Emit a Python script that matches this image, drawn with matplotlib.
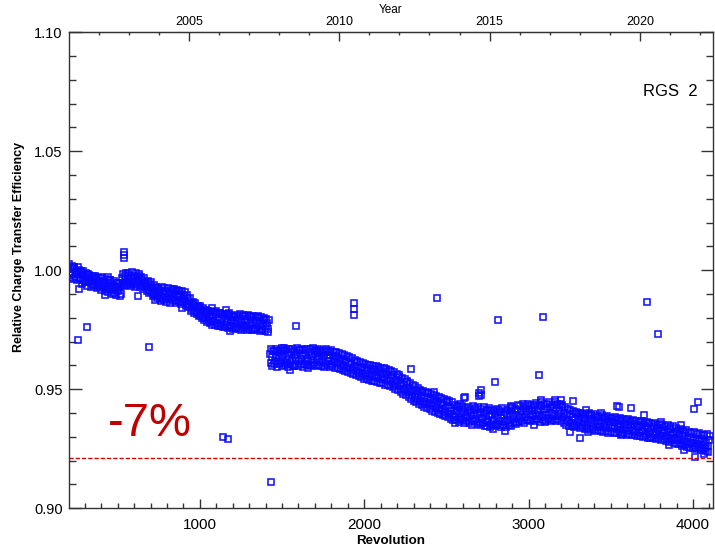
import numpy as np
import matplotlib
matplotlib.use("Agg")
import matplotlib.pyplot as plt
from matplotlib.ticker import MultipleLocator, FixedLocator

# ---------------- data ----------------
# before the jump at revolution ~1420 (two interleaved samplings of the band)
seg1_start, seg1_step = 200, 8
seg1_values = [
    1.0012, 0.9981, 1.0004, 0.9990, 1.0008, 0.9973, 0.9995, 0.9986, 1.0001, 0.9969,
    0.9988, 0.9958, 0.9979, 0.9949, 0.9972, 0.9985, 0.9952, 0.9966, 0.9941, 0.9970,
    0.9938, 0.9962, 0.9947, 0.9928, 0.9955, 0.9972, 0.9931, 0.9950, 0.9940, 0.9921,
    0.9946, 0.9925, 0.9958, 0.9918, 0.9937, 0.9905, 0.9929, 0.9946, 0.9912, 0.9931,
    0.9902,
    0.9968, 0.9945, 0.9978, 0.9952, 0.9964, 0.9980, 0.9941, 0.9970, 0.9957,
    0.9975, 0.9946, 0.9966, 0.9955, 0.9978, 0.9938, 0.9960, 0.9948, 0.9929, 0.9952,
    0.9935, 0.9918, 0.9942, 0.9909, 0.9926, 0.9898, 0.9915, 0.9930, 0.9892, 0.9908,
    0.9917, 0.9884, 0.9902, 0.9925, 0.9889, 0.9908, 0.9878, 0.9899, 0.9915, 0.9882,
    0.9906, 0.9875, 0.9912, 0.9889, 0.9897, 0.9868, 0.9901, 0.9880, 0.9893, 0.9872,
    0.9860, 0.9878, 0.9845, 0.9862, 0.9838, 0.9855, 0.9831, 0.9846, 0.9822, 0.9840,
    0.9812, 0.9834, 0.9807, 0.9825, 0.9798, 0.9819, 0.9830, 0.9793, 0.9812, 0.9785,
    0.9808, 0.9789, 0.9816, 0.9780, 0.9799, 0.9822, 0.9776, 0.9795, 0.9809, 0.9772,
    0.9798, 0.9781, 0.9812, 0.9768, 0.9790, 0.9805, 0.9774, 0.9793, 0.9763, 0.9786,
    0.9800, 0.9770, 0.9789, 0.9812, 0.9766, 0.9784, 0.9796, 0.9761, 0.9779, 0.9803,
    0.9772, 0.9790, 0.9758, 0.9781, 0.9798, 0.9765, 0.9786, 0.9754, 0.9776, 0.9793,
    0.9762, 0.9779, 0.9752,
]
seg1b_start, seg1b_step = 204, 8
seg1b_values = [
    1.0028, 0.9968, 1.0020, 0.9962, 1.0015, 0.9990, 0.9958, 1.0012, 0.9965, 0.9998,
    0.9942, 0.9996, 0.9950, 0.9990, 0.9936, 0.9982, 0.9965, 0.9928, 0.9978, 0.9934,
    0.9975, 0.9925, 0.9968, 0.9940, 0.9918, 0.9966, 0.9950, 0.9912, 0.9962, 0.9930,
    0.9908, 0.9960, 0.9935, 0.9900, 0.9954, 0.9922, 0.9896, 0.9945, 0.9930, 0.9893,
    0.9940,
    0.9985, 0.9932, 0.9990, 0.9940, 0.9988, 0.9951, 0.9935, 0.9992, 0.9944,
    0.9930, 0.9990, 0.9940, 0.9985, 0.9928, 0.9972, 0.9922, 0.9968, 0.9945, 0.9915,
    0.9955, 0.9905, 0.9950, 0.9925, 0.9890, 0.9940, 0.9900, 0.9882, 0.9925, 0.9880,
    0.9870, 0.9928, 0.9875, 0.9915, 0.9865, 0.9925, 0.9895, 0.9862, 0.9920, 0.9870,
    0.9922, 0.9862, 0.9918, 0.9870, 0.9912, 0.9858, 0.9915, 0.9865, 0.9908, 0.9852,
    0.9898, 0.9848, 0.9882, 0.9830, 0.9868, 0.9822, 0.9862, 0.9815, 0.9852, 0.9808,
    0.9850, 0.9800, 0.9842, 0.9790, 0.9835, 0.9782, 0.9828, 0.9778, 0.9826, 0.9772,
    0.9826, 0.9770, 0.9830, 0.9765, 0.9820, 0.9768, 0.9815, 0.9760, 0.9818, 0.9762,
    0.9815, 0.9758, 0.9820, 0.9762, 0.9810, 0.9755, 0.9812, 0.9757, 0.9808, 0.9752,
    0.9815, 0.9750, 0.9808, 0.9756, 0.9810, 0.9748, 0.9812, 0.9752, 0.9806, 0.9750,
    0.9808, 0.9747, 0.9805, 0.9752, 0.9810, 0.9745, 0.9802, 0.9748, 0.9800, 0.9744,
    0.9795, 0.9742, 0.9790,
]

# after the jump
seg2_start, seg2_step = 1426, 8
seg2_values = [
    0.9648, 0.9612, 0.9635, 0.9659, 0.9620, 0.9641, 0.9605, 0.9630, 0.9652, 0.9617,
    0.9639, 0.9661, 0.9609, 0.9628, 0.9647, 0.9615, 0.9656, 0.9625, 0.9598, 0.9643,
    0.9630, 0.9652, 0.9618, 0.9664, 0.9626, 0.9641, 0.9608, 0.9649, 0.9633, 0.9620,
    0.9655, 0.9622, 0.9640, 0.9611, 0.9648, 0.9660, 0.9627, 0.9637, 0.9615, 0.9653,
    0.9625, 0.9644, 0.9612, 0.9658, 0.9631, 0.9620, 0.9646, 0.9606, 0.9638, 0.9624,
    0.9640, 0.9612, 0.9632, 0.9618, 0.9603, 0.9628, 0.9596, 0.9615, 0.9622, 0.9590,
    0.9612, 0.9588, 0.9605, 0.9580, 0.9597, 0.9614, 0.9575, 0.9593, 0.9568, 0.9589,
    0.9592, 0.9566, 0.9581, 0.9557, 0.9588, 0.9570, 0.9552, 0.9579, 0.9563, 0.9585,
    0.9555, 0.9573, 0.9548, 0.9580, 0.9561, 0.9542, 0.9566, 0.9550, 0.9571, 0.9538,
    0.9558, 0.9533, 0.9547, 0.9562, 0.9528, 0.9541, 0.9519, 0.9536, 0.9550, 0.9512,
    0.9526, 0.9503, 0.9518, 0.9495, 0.9532, 0.9488, 0.9507, 0.9491, 0.9475, 0.9499,
    0.9468, 0.9492, 0.9459, 0.9482, 0.9450, 0.9471, 0.9487, 0.9446, 0.9463, 0.9440,
    0.9468, 0.9437, 0.9455, 0.9428, 0.9461, 0.9443, 0.9420, 0.9452, 0.9433, 0.9415,
    0.9442, 0.9418, 0.9436, 0.9405, 0.9427, 0.9448, 0.9398, 0.9421, 0.9410, 0.9392,
    0.9417, 0.9385, 0.9409, 0.9428, 0.9380, 0.9398, 0.9413, 0.9372, 0.9403, 0.9389,
    0.9378, 0.9410, 0.9386, 0.9401, 0.9367, 0.9393, 0.9420, 0.9375, 0.9397, 0.9364,
    0.9405, 0.9381, 0.9360, 0.9396, 0.9374, 0.9412, 0.9368, 0.9387, 0.9356, 0.9391,
    0.9372, 0.9399, 0.9352, 0.9384, 0.9366, 0.9403, 0.9378, 0.9348, 0.9390, 0.9363,
    0.9395, 0.9370, 0.9358, 0.9388, 0.9407, 0.9375, 0.9392, 0.9361, 0.9412, 0.9383,
    0.9376, 0.9410, 0.9393, 0.9421, 0.9385, 0.9404, 0.9372, 0.9418, 0.9395, 0.9409,
    0.9387, 0.9424, 0.9398, 0.9376, 0.9412, 0.9393, 0.9430, 0.9384, 0.9405, 0.9419,
    0.9392, 0.9416, 0.9380, 0.9427, 0.9401, 0.9389, 0.9420, 0.9396, 0.9433, 0.9386,
    0.9410, 0.9395, 0.9425, 0.9382, 0.9402, 0.9371, 0.9391, 0.9366, 0.9398, 0.9359,
    0.9384, 0.9352, 0.9377, 0.9395, 0.9360, 0.9371, 0.9389, 0.9348, 0.9380, 0.9362,
    0.9378, 0.9350, 0.9369, 0.9392, 0.9357, 0.9374, 0.9343, 0.9366, 0.9385, 0.9351,
    0.9367, 0.9340, 0.9360, 0.9378, 0.9346, 0.9355, 0.9336, 0.9371, 0.9352, 0.9364,
    0.9338, 0.9361, 0.9345, 0.9372, 0.9333, 0.9356, 0.9342, 0.9366, 0.9329, 0.9350,
    0.9358, 0.9336, 0.9349, 0.9324, 0.9362, 0.9340, 0.9330, 0.9355, 0.9321, 0.9345,
    0.9340, 0.9318, 0.9352, 0.9331, 0.9325, 0.9347, 0.9313, 0.9336, 0.9358, 0.9322,
    0.9335, 0.9314, 0.9342, 0.9320, 0.9309, 0.9338, 0.9326, 0.9305, 0.9331, 0.9317,
    0.9328, 0.9302, 0.9320, 0.9295, 0.9333, 0.9308, 0.9290, 0.9315, 0.9297, 0.9322,
    0.9285, 0.9310, 0.9291, 0.9275, 0.9304, 0.9283, 0.9316, 0.9279, 0.9296, 0.9270,
    0.9299, 0.9274, 0.9288, 0.9262, 0.9293, 0.9270, 0.9281, 0.9256, 0.9290, 0.9265,
    0.9280, 0.9252, 0.9276, 0.9261, 0.9287,
]
seg2b_start, seg2b_step = 1430, 8
seg2b_values = [
    0.9668, 0.9598, 0.9662, 0.9605, 0.9670, 0.9592, 0.9660, 0.9610, 0.9665, 0.9596,
    0.9672, 0.9600, 0.9664, 0.9594, 0.9668, 0.9606, 0.9670, 0.9598, 0.9662, 0.9603,
    0.9673, 0.9597, 0.9666, 0.9608, 0.9671, 0.9595, 0.9664, 0.9602, 0.9669, 0.9600,
    0.9668, 0.9599, 0.9672, 0.9604, 0.9665, 0.9596, 0.9670, 0.9601, 0.9662, 0.9598,
    0.9666, 0.9595, 0.9668, 0.9600, 0.9660, 0.9593, 0.9664, 0.9597, 0.9655, 0.9590,
    0.9658, 0.9588, 0.9652, 0.9585, 0.9648, 0.9580, 0.9645, 0.9578, 0.9640, 0.9572,
    0.9635, 0.9570, 0.9630, 0.9565, 0.9625, 0.9560, 0.9620, 0.9555, 0.9615, 0.9550,
    0.9610, 0.9545, 0.9606, 0.9542, 0.9603, 0.9540, 0.9600, 0.9536, 0.9598, 0.9534,
    0.9598, 0.9532, 0.9595, 0.9528, 0.9590, 0.9525, 0.9588, 0.9520, 0.9585, 0.9518,
    0.9582, 0.9515, 0.9578, 0.9510, 0.9572, 0.9503, 0.9565, 0.9498, 0.9558, 0.9490,
    0.9548, 0.9482, 0.9542, 0.9475, 0.9535, 0.9468, 0.9528, 0.9460, 0.9520, 0.9452,
    0.9512, 0.9446, 0.9505, 0.9440, 0.9498, 0.9432, 0.9492, 0.9425, 0.9488, 0.9420,
    0.9485, 0.9416, 0.9480, 0.9410, 0.9475, 0.9405, 0.9470, 0.9400, 0.9466, 0.9396,
    0.9465, 0.9392, 0.9460, 0.9388, 0.9455, 0.9382, 0.9450, 0.9375, 0.9445, 0.9370,
    0.9432, 0.9370, 0.9425, 0.9362, 0.9438, 0.9375, 0.9428, 0.9358, 0.9420, 0.9366,
    0.9426, 0.9360, 0.9418, 0.9352, 0.9430, 0.9368, 0.9412, 0.9355, 0.9424, 0.9349,
    0.9416, 0.9358, 0.9425, 0.9345, 0.9410, 0.9362, 0.9420, 0.9340, 0.9414, 0.9352,
    0.9408, 0.9345, 0.9418, 0.9356, 0.9412, 0.9340, 0.9420, 0.9350, 0.9406, 0.9343,
    0.9414, 0.9352, 0.9420, 0.9345, 0.9426, 0.9360, 0.9418, 0.9355, 0.9432, 0.9362,
    0.9428, 0.9366, 0.9438, 0.9360, 0.9430, 0.9372, 0.9440, 0.9365, 0.9434, 0.9370,
    0.9436, 0.9368, 0.9442, 0.9374, 0.9434, 0.9362, 0.9445, 0.9372, 0.9438, 0.9366,
    0.9440, 0.9375, 0.9446, 0.9368, 0.9436, 0.9372, 0.9448, 0.9365, 0.9439, 0.9374,
    0.9440, 0.9368, 0.9432, 0.9360, 0.9425, 0.9352, 0.9418, 0.9346, 0.9412, 0.9344,
    0.9408, 0.9340, 0.9405, 0.9345, 0.9402, 0.9336, 0.9400, 0.9342, 0.9398, 0.9335,
    0.9396, 0.9336, 0.9400, 0.9330, 0.9392, 0.9334, 0.9395, 0.9326, 0.9388, 0.9328,
    0.9385, 0.9324, 0.9390, 0.9320, 0.9382, 0.9326, 0.9386, 0.9318, 0.9380, 0.9322,
    0.9378, 0.9318, 0.9384, 0.9315, 0.9376, 0.9320, 0.9380, 0.9312, 0.9374, 0.9316,
    0.9372, 0.9310, 0.9376, 0.9312, 0.9368, 0.9306, 0.9372, 0.9308, 0.9365, 0.9304,
    0.9362, 0.9302, 0.9368, 0.9298, 0.9360, 0.9304, 0.9364, 0.9296, 0.9358, 0.9300,
    0.9356, 0.9295, 0.9360, 0.9292, 0.9352, 0.9297, 0.9355, 0.9288, 0.9348, 0.9290,
    0.9345, 0.9284, 0.9350, 0.9280, 0.9340, 0.9285, 0.9344, 0.9276, 0.9336, 0.9272,
    0.9330, 0.9268, 0.9334, 0.9262, 0.9326, 0.9266, 0.9330, 0.9258, 0.9322, 0.9255,
    0.9318, 0.9252, 0.9322, 0.9248, 0.9314, 0.9254, 0.9318, 0.9245, 0.9310, 0.9246,
    0.9306, 0.9242, 0.9312, 0.9238, 0.9302,
]

# scattered points on the ragged edges of the band
edge_rev = [422, 625, 726, 889, 1071, 1162, 1182, 1497, 1547, 1658, 1710, 1790,
            2386, 2426, 2550, 2615, 2712, 2712, 2749, 2785, 2854, 2895, 3030,
            3077, 3097, 3158, 3198, 3249, 3350, 3359, 3442, 3564, 3705, 3736,
            3807, 3857, 3928, 3948, 4070]
edge_val = [0.9896, 0.9892, 0.9875, 0.9840, 0.9840, 0.9833, 0.9745, 0.9672,
            0.9581, 0.9588, 0.9658, 0.9658, 0.9486, 0.9490, 0.9360, 0.9469,
            0.9497, 0.9476, 0.9346, 0.9332, 0.9326, 0.9430, 0.9350, 0.9455,
            0.9364, 0.9455, 0.9455, 0.9322, 0.9413, 0.9322, 0.9402, 0.9308,
            0.9392, 0.9294, 0.9364, 0.9266, 0.9350, 0.9245, 0.9228]

outlier_rev = [265, 441, 258, 313, 540, 540, 540, 690, 1140, 1170, 1430, 1588,
               1936, 1936, 1936, 2283, 2443, 2610, 2700, 2700, 2793, 2814, 3061,
               3087, 3269, 3310, 3535, 3550, 3624, 3719, 3790, 4009, 4033, 4015]
outlier_val = [0.9920, 0.9973, 0.9708, 0.9763, 1.0076, 1.0063, 1.0050, 0.9678,
               0.9300, 0.9290, 0.9110, 0.9766, 0.9864, 0.9836, 0.9813, 0.9584,
               0.9882, 0.9465, 0.9485, 0.9470, 0.9532, 0.9790, 0.9560, 0.9804,
               0.9452, 0.9297, 0.9430, 0.9427, 0.9420, 0.9868, 0.9731, 0.9416,
               0.9447, 0.9217]

limit_value = 0.921
year_ticks = [2005, 2010, 2015, 2020]
x_ticks = [1000, 2000, 3000, 4000]
y_ticks = [0.90, 0.95, 1.00, 1.05, 1.10]

# ---------------- figure ----------------
FONT = 'Liberation Sans'

def revs(start, step, vals):
    return start + step * np.arange(len(vals))

W, H = 715, 552
fig = plt.figure(figsize=(W / 100, H / 100), dpi=100)
ax = fig.add_axes([0.0965, 0.0792, 0.9007, 0.8623])

mk = dict(marker='s', linestyle='none', markersize=4.0, markerfacecolor='none',
          markeredgecolor='#0808ff', markeredgewidth=1.15, alpha=0.95)
ax.plot(revs(seg1_start, seg1_step, seg1_values), seg1_values, **mk)
ax.plot(revs(seg1b_start, seg1b_step, seg1b_values), seg1b_values, **mk)
ax.plot(revs(seg2_start, seg2_step, seg2_values), seg2_values, **mk)
ax.plot(revs(seg2b_start, seg2b_step, seg2b_values), seg2b_values, **mk)
ax.plot(edge_rev, edge_val, **mk)
ax.plot(outlier_rev, outlier_val, **mk)

ax.axhline(limit_value, color='#d40000', linestyle=(0, (3, 1.5)), linewidth=1.0)

ax.set_xlim(204, 4122)
ax.set_ylim(0.90, 1.10)

ax.xaxis.set_major_locator(FixedLocator(x_ticks))
ax.xaxis.set_minor_locator(MultipleLocator(100))
ax.yaxis.set_major_locator(FixedLocator(y_ticks))
ax.yaxis.set_minor_locator(MultipleLocator(0.01))
ax.set_yticklabels([f"{v:.2f}" for v in y_ticks])

spine_col = '#333333'
for s in ax.spines.values():
    s.set_color(spine_col)
    s.set_linewidth(1.0)

ax.tick_params(axis='x', which='major', direction='in', length=6.5, width=1.0,
               color=spine_col, labelsize=11, pad=7, top=False)
ax.tick_params(axis='x', which='minor', direction='in', length=3.5, width=1.0,
               color=spine_col, top=False)
ax.tick_params(axis='y', which='major', direction='in', length=9, width=1.0,
               color=spine_col, labelsize=10.5, pad=4.5, right=True)
ax.tick_params(axis='y', which='minor', direction='in', length=5, width=1.0,
               color=spine_col, right=True)
for lab in ax.get_xticklabels() + ax.get_yticklabels():
    lab.set_family(FONT)

ax.set_xlabel('Revolution', fontsize=9.6, fontweight='bold', family=FONT,
              labelpad=2)
fig.text(19 / W, 1 - 247 / H, 'Relative Charge Transfer Efficiency',
         rotation=90, ha='center', va='center', fontsize=9, fontweight='bold',
         family=FONT)

# top axis in years
def rev2year(r):
    return 2005 + (np.asarray(r) - 933.0) / 183.0

def year2rev(y):
    return 933.0 + (np.asarray(y) - 2005) * 183.0

sec = ax.secondary_xaxis('top', functions=(rev2year, year2rev))
sec.xaxis.set_major_locator(FixedLocator(year_ticks))
sec.xaxis.set_minor_locator(MultipleLocator(1))
sec.tick_params(axis='x', which='major', direction='in', length=6.5, width=1.0,
                color=spine_col, labelsize=9, pad=3)
sec.tick_params(axis='x', which='minor', direction='in', length=2.5, width=1.0,
                color=spine_col)
for lab in sec.get_xticklabels():
    lab.set_family(FONT)
sec.spines['top'].set_color(spine_col)
sec.set_xlabel('Year', fontsize=8.5, family=FONT, labelpad=2)

ax.text(0.9765, 0.867, 'RGS  2', transform=ax.transAxes, fontsize=12,
        family=FONT, ha='right', va='baseline', color='black')
ax.text(441, 0.9305, '-7%', fontsize=34, family=FONT,
        color='#c00000', ha='left', va='baseline')

fig.savefig('out.png', dpi=100)
